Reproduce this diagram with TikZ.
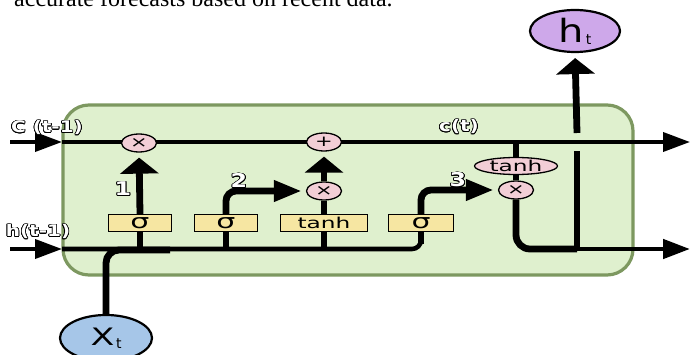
\documentclass[tikz,border=0pt]{standalone}
\usepackage{fontspec}
\usepackage{graphicx}
\setmainfont{Liberation Serif}
\newfontfamily\dv{DejaVu Sans}
\usepackage{contour}
\contourlength{0.6pt}
\usetikzlibrary{arrows.meta,shapes.geometric}
\definecolor{cellfill}{RGB}{223,240,206}
\definecolor{celledge}{RGB}{125,152,96}
\definecolor{opfill}{RGB}{242,206,214}
\definecolor{gatefill}{RGB}{246,230,162}
\definecolor{htfill}{RGB}{206,168,234}
\definecolor{xtfill}{RGB}{166,198,232}
\newcommand\hstretch[2]{\scalebox{#1}[1]{#2}}
\newcommand\olabtext[1]{\hstretch{1.25}{\contour{black}{#1}}}
\pgfdeclarelayer{back}
\pgfdeclarelayer{mid}
\pgfsetlayers{back,mid,main}
\tikzset{
  cellbox/.style={draw=celledge, line width=3.2pt, fill=cellfill, rounded corners=26pt},
  mainline/.style={line width=3.8pt},
  hmid/.style={line width=4.6pt},
  stem/.style={line width=6.8pt},
  vtip/.style={-{Triangle[length=16pt,width=38pt]}, shorten >=5pt},
  htip/.style={-{Triangle[length=28pt,width=20pt]}, shorten >=4pt},
  ltip/.style={-{Triangle[length=27pt,width=19pt]}},
  op/.style={ellipse, draw, line width=1.3pt, fill=opfill, minimum width=35pt, minimum height=18pt, inner sep=0pt, font=\dv\fontsize{15}{15}\selectfont},
  gate/.style={rectangle, draw, line width=1.3pt, fill=gatefill, minimum height=17pt, inner sep=0pt},
  olab/.style={text=white, inner sep=0pt, font=\dv\bfseries\fontsize{16}{16}\selectfont},
  io/.style={ellipse, draw, line width=2.2pt, inner sep=0pt}
}
\begin{document}
\begin{tikzpicture}[x=1pt,y=-1pt]
\useasboundingbox (0,0) rectangle (695,355);
\node[anchor=base west, inner sep=0pt, font=\fontsize{24}{24}\selectfont] (title) at (14,6.5) {accurate forecasts based on recent data.};
% cell
\begin{pgfonlayer}{back}
\draw[cellbox] (63,105) rectangle (633,275);
\end{pgfonlayer}
% nodes
\node[op] (m1) at (139,143) {\hstretch{1.4}{×}};
\node[op] (plus) at (324,142) {\hstretch{1.4}{+}};
\node[op] (m2) at (324,191) {\hstretch{1.4}{×}};
\node[op, minimum width=83pt, minimum height=17pt] (tanhE) at (516,166) {\hstretch{1.55}{tanh}};
\node[op] (m3) at (516,190) {\hstretch{1.4}{×}};
\node[gate, minimum width=63pt, font=\dv\fontsize{20}{20}\selectfont] (s1) at (140,223) {\hstretch{1.5}{σ}};
\node[gate, minimum width=63pt, font=\dv\fontsize{20}{20}\selectfont] (s2) at (226,223) {\hstretch{1.5}{σ}};
\node[gate, minimum width=87pt, font=\dv\fontsize{15}{15}\selectfont] (tb) at (324,223) {\hstretch{1.55}{tanh}};
\node[gate, minimum width=65pt, font=\dv\fontsize{20}{20}\selectfont] (s3) at (421,223) {\hstretch{1.5}{σ}};
\node[io, fill=htfill, minimum width=90pt, minimum height=42pt] (ht) at (575,31) {\dv\hstretch{1.25}{\fontsize{32}{32}\selectfont h}\,\raisebox{-2pt}{\fontsize{14}{14}\selectfont t}};
\node[io, fill=xtfill, minimum width=92pt, minimum height=46pt] (xt) at (106,338) {\dv\hstretch{1.45}{\fontsize{24}{24}\selectfont X}\,\raisebox{-3pt}{\fontsize{14}{14}\selectfont t}};
% labels
\node[olab] (lc) at (47,128) {\olabtext{C (t-1)}};
\node[olab] (lh) at (38,232) {\olabtext{h(t-1)}};
\node[olab, font=\dv\bfseries\fontsize{19}{19}\selectfont] (l1) at (123,189) {\olabtext{1}};
\node[olab, font=\dv\bfseries\fontsize{19}{19}\selectfont] (l2) at (239,181) {\olabtext{2}};
\node[olab, font=\dv\bfseries\fontsize{19}{19}\selectfont] (l3) at (458,180) {\olabtext{3}};
\node[olab] (lct) at (459,127) {\olabtext{c(t)}};
% coordinates
\coordinate (cin) at (10,142);
\coordinate (cedge) at (62,142);
\coordinate (cout) at (690,142);
\coordinate (hin) at (10,249);
\coordinate (hedge) at (62,249);
\coordinate (hout) at (690,249);
\coordinate (hbr) at (577,249);
\coordinate (gaplow) at (577,151);
\coordinate (gaphigh) at (577,133);
\coordinate (ctap) at (516,142);
\coordinate (xjoin) at (170,250);
% connectors
\begin{pgfonlayer}{mid}
\draw[mainline, ltip] (cin) -- (cedge);
\draw[mainline, ltip] (cedge) -- (cout);
\draw[mainline, ltip] (hin) -- (hedge);
\draw[hmid, rounded corners=9pt] (hedge) -| (s3.south);
\draw[stem] (s3.south) -- ++(0,12);
\draw[stem] (s1.south) -- (s1.south |- hedge);
\draw[stem] (s2.south) -- (s2.south |- hedge);
\draw[stem] (tb.south) -- (tb.south |- hedge);
\draw[stem, rounded corners=13pt] (xt.north) |- (xjoin);
\draw[stem, vtip] (s1.north) -- (m1.south);
\draw[stem, htip, rounded corners=10pt] (s2.north) |- (m2.west);
\draw[stem] (tb.north) -- (m2.south);
\draw[stem, vtip] (m2.north) -- (plus.south);
\draw[stem, htip, rounded corners=10pt] (s3.north) |- (m3.west);
\draw[stem] (ctap) -- (tanhE.north);
\draw[stem] (tanhE.south) -- (m3.north);
\draw[stem, rounded corners=14pt] (m3.south) |- (hbr);
\draw[hmid, ltip] (hbr) -- (hout);
\draw[stem] (hbr) -- (gaplow);
\draw[stem, vtip] (gaphigh) -- (ht.south);
\end{pgfonlayer}
\end{tikzpicture}
\end{document}
